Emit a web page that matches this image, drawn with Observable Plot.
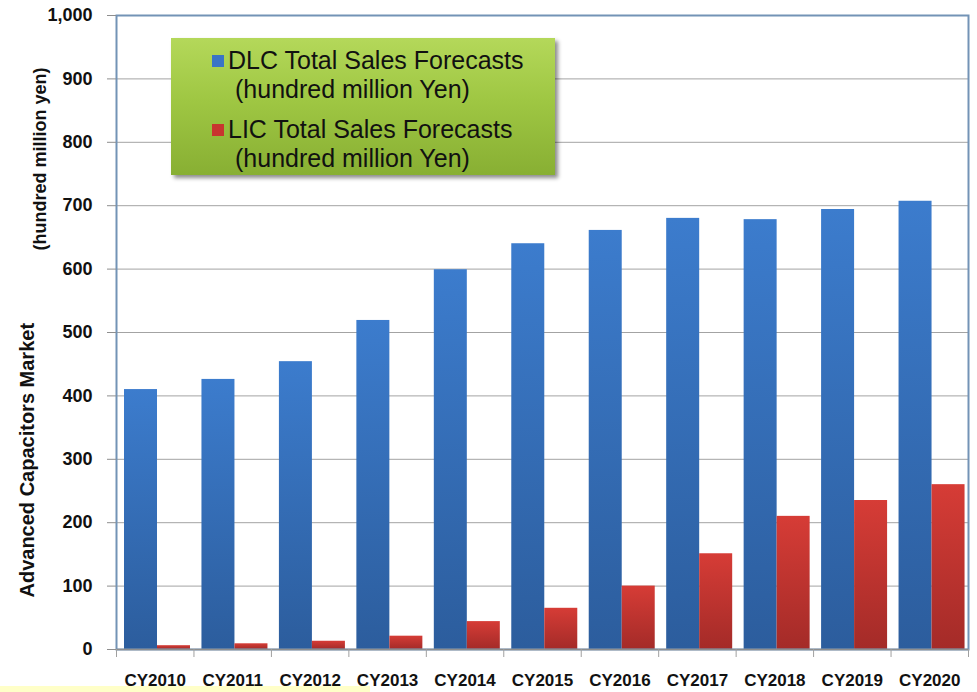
<!DOCTYPE html>
<html>
<head>
<meta charset="utf-8">
<script src="https://cdn.jsdelivr.net/npm/d3@7"></script>
<script src="https://cdn.jsdelivr.net/npm/@observablehq/plot@0.6"></script>
<style>
  html, body { margin: 0; padding: 0; background: #fff; }
  #wrap { position: relative; width: 977px; height: 692px; overflow: hidden; }
  #legend {
    position: absolute; left: 171px; top: 38px; width: 384px; height: 137px;
    box-sizing: border-box; padding-top: 8px;
    background: linear-gradient(to bottom, #b4d85a 0%, #9fc743 45%, #88af33 100%);
    box-shadow: 3px 3px 4px rgba(0,0,0,0.45);
    font-family: "Liberation Sans", Arial, sans-serif; font-size: 25px; color: #111;
  }
  .item { position: relative; margin-bottom: 11px; }
  .sw { position: absolute; left: 41px; top: 9px; width: 12px; height: 12px; }
  .line1 { padding-left: 57px; line-height: 29px; white-space: nowrap; }
  .line2 { padding-left: 64px; line-height: 29px; white-space: nowrap; }
  #strip { position: absolute; left: 0; top: 686px; width: 370px; height: 6px; background: #ffffc8; }
</style>
</head>
<body>
<div id="wrap"><div id="chart"></div><div id="legend"></div><div id="strip"></div></div>
<script>
const years = ["CY2010","CY2011","CY2012","CY2013","CY2014","CY2015","CY2016","CY2017","CY2018","CY2019","CY2020"];
const dlcSales = [410, 426, 454, 519, 599, 640, 661, 680, 678, 694, 707];
const licSales = [6, 9, 13, 21, 44, 65, 100, 151, 210, 235, 260];
const yTicks = [0, 100, 200, 300, 400, 500, 600, 700, 800, 900, 1000];
const seriesNames = ["DLC Total Sales Forecasts", "LIC Total Sales Forecasts"];
const seriesUnit = "(hundred million Yen)";
const seriesColors = ["#3a74c6", "#c8352f"];
const yTitleMain = "Advanced Capacitors Market";
const yTitleUnit = "(hundred million yen)";

const data = years.map((y, i) => ({year: y, dlc: dlcSales[i], lic: licSales[i]}));

const W = 977, H = 692, mL = 116, mR = 9, mT = 15, mB = 43;
const bw = (W - mL - mR) / years.length;
const barW = 33, gapL = 8;
const font = "'Liberation Sans', Arial, sans-serif";

const chart = Plot.plot({
  width: W, height: H,
  marginLeft: mL, marginRight: mR, marginTop: mT, marginBottom: mB,
  style: {background: "white", fontFamily: font},
  x: {type: "band", domain: years, padding: 0, round: false, axis: null},
  y: {domain: [0, 1000], axis: null},
  marks: [
    Plot.gridY(yTicks, {stroke: "#a3a3a3", strokeOpacity: 1, strokeWidth: 1}),
    Plot.barY(data, {x: "year", y: "dlc", fill: "url(#gradBlue)", insetLeft: gapL, insetRight: bw - gapL - barW}),
    Plot.barY(data, {x: "year", y: "lic", fill: "url(#gradRed)", insetLeft: gapL + barW, insetRight: bw - gapL - 2 * barW}),
    Plot.frame({stroke: "#7393b6", strokeWidth: 2}),
    Plot.ruleY([0], {stroke: "#8e8e8e", strokeWidth: 1.5}),
    Plot.axisY(yTicks, {tickSize: 9, tickPadding: 15, tickFormat: d3.format(","), stroke: "#8e8e8e",
      fontSize: 18, fontWeight: "bold", fill: "#111", label: null}),
    Plot.axisX({tickSize: 0, tickPadding: 24, fontSize: 17, fontWeight: "bold", fill: "#111", label: null}),
    Plot.axisX({tickSize: 8, tickFormat: () => "", dx: -bw / 2, stroke: "#a0a0a0", label: null}),
    Plot.axisX([years[years.length - 1]], {tickSize: 8, tickFormat: () => "", dx: bw / 2, stroke: "#a0a0a0", label: null}),
    Plot.text([yTitleMain], {frameAnchor: "bottom-left", dx: -83, dy: -52, rotate: -90, textAnchor: "start",
      fontSize: 20, fontWeight: "bold", fill: "#111"}),
    Plot.text([yTitleUnit], {frameAnchor: "top-left", dx: -83, dy: 52, rotate: -90, textAnchor: "end",
      fontSize: 18, fontWeight: "bold", fill: "#111"})
  ]
});

// gradients for bar fills
const svg = d3.select(chart.tagName.toLowerCase() === "svg" ? chart : chart.querySelector("svg"));
const defs = svg.insert("defs", ":first-child");
function grad(id, top, bottom) {
  const g = defs.append("linearGradient").attr("id", id).attr("x1", 0).attr("y1", 0).attr("x2", 0).attr("y2", 1);
  g.append("stop").attr("offset", "0%").attr("stop-color", top);
  g.append("stop").attr("offset", "100%").attr("stop-color", bottom);
}
grad("gradBlue", "#3c7ccd", "#2c5d9d");
grad("gradRed", "#d63c36", "#a42b28");

document.getElementById("chart").appendChild(chart);

// legend
const legend = document.getElementById("legend");
seriesNames.forEach((name, i) => {
  const item = document.createElement("div");
  item.className = "item";
  const sw = document.createElement("div");
  sw.className = "sw"; sw.style.background = seriesColors[i];
  const l1 = document.createElement("div"); l1.className = "line1"; l1.textContent = name;
  const l2 = document.createElement("div"); l2.className = "line2"; l2.textContent = seriesUnit;
  item.append(sw, l1, l2);
  legend.appendChild(item);
});
</script>
</body>
</html>
